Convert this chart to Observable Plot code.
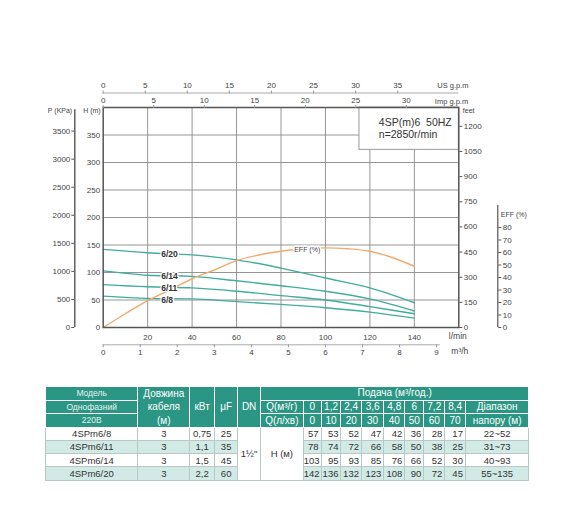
<!DOCTYPE html>
<html>
<head>
<meta charset="utf-8">
<script src="https://cdn.jsdelivr.net/npm/d3@7"></script>
<script src="https://cdn.jsdelivr.net/npm/@observablehq/plot@0.6"></script>
<style>
  html, body { margin: 0; padding: 0; background: #fff; }
  #wrap { position: relative; width: 570px; height: 508px; overflow: hidden; font-family: "Liberation Sans", Arial, sans-serif; }
  #chart { position: absolute; left: 0; top: 0; }
  #tbl { position: absolute; left: 45px; top: 386px; width: 483px; border-collapse: collapse; table-layout: fixed; font-family: "Liberation Sans", Arial, sans-serif; }
  #tbl td { padding: 0; overflow: hidden; white-space: nowrap; text-align: center; vertical-align: middle; line-height: 1; }
  #tbl thead td { background: #2b9684; color: #fff; font-size: 10px; border: 1px solid rgba(255,255,255,0.35); }
  #tbl thead tr { height: 13.3px; }
  #tbl thead td.model { font-size: 8.5px; color: #e3f3f0; }
  #tbl thead td.multi { line-height: 13.3px; }
  #tbl tbody tr { height: 13.2px; }
  #tbl tbody td { font-size: 9.5px; color: #333; border: 1px solid #b8c8c5; background: #fff; }
  #tbl tbody tr.alt td.band { background: #d2eae5; }
  #tbl td.num { text-align: right; padding-right: 2px; }
</style>
</head>
<body>
<div id="wrap">
  <div id="chart"></div>
  <table id="tbl"></table>
</div>
<script>
// ---------------- chart data ----------------
const curveModels = ["6/8", "6/11", "6/14", "6/20"];
const flowM3h = [0, 1.2, 2.4, 3.6, 4.8, 6, 7.2, 8.4];
const head6_8  = [57, 53, 52, 47, 42, 36, 28, 17];
const head6_11 = [78, 74, 72, 66, 58, 50, 38, 25];
const head6_14 = [103, 95, 93, 85, 76, 66, 52, 30];
const head6_20 = [142, 136, 132, 123, 108, 90, 72, 45];
const effFlowLmin = [0, 10, 20, 30, 40, 50, 60, 70, 80, 90, 100, 110, 120, 130, 140];
const effPct      = [0, 11, 21.5, 30, 39, 46, 53.5, 58, 61, 63, 63.7, 63, 61, 56, 49];

// tick labels
const lminTicks = [20, 40, 60, 80, 100, 120, 140];
const m3hTicks = [0, 1, 2, 3, 4, 5, 6, 7, 8, 9];
const usGpmTicks = [0, 5, 10, 15, 20, 25, 30, 35];
const impGpmTicks = [0, 5, 10, 15, 20, 25, 30];
const headTicks = [0, 50, 100, 150, 200, 250, 300, 350];
const kpaTicks = [0, 500, 1000, 1500, 2000, 2500, 3000, 3500];
const feetTicks = [0, 150, 300, 450, 600, 750, 900, 1050, 1200];
const effTicks = [0, 10, 20, 30, 40, 50, 60, 70, 80];
const infoLines = ["4SP(m)6\u00a0\u00a050HZ", "n=2850r/min"];

// unit conversions (to l/min on x, to metres on y)
const LMIN_PER_M3H = 1000 / 60;
const LMIN_PER_USGPM = 3.7854;
const LMIN_PER_IMPGPM = 4.5461;
const M_PER_KPA = 1 / 9.8;
const M_PER_FT = 0.3048;
const M_PER_EFFPCT = 2.2727;   // EFF scale: 100 % spans 227 m of the head axis

// ---------------- table data ----------------
const modelNames = ["4SPm6/8", "4SPm6/11", "4SPm6/14", "4SPm6/20"];
const cableLen = ["3", "3", "3", "3"];
const powerKw = ["0,75", "1,1", "1,5", "2,2"];
const capUf = ["25", "35", "45", "60"];
const flowM3hLabels = ["0", "1,2", "2,4", "3,6", "4,8", "6", "7,2", "8,4"];
const flowLminLabels = ["0", "10", "20", "30", "40", "50", "60", "70"];
const headRanges = ["22~52", "31~73", "40~93", "55~135"];
const dnLabel = "1½\"";

// ---------------- build chart ----------------
const heads = [head6_8, head6_11, head6_14, head6_20];
const curveData = [];
curveModels.forEach((m, i) => flowM3h.forEach((q, j) => curveData.push({model: m, q: q * LMIN_PER_M3H, h: heads[i][j]})));
const effData = effFlowLmin.map((q, i) => ({q, eff: effPct[i]}));
const labelData = curveModels.map((m, i) => ({model: m, q: flowM3h[1] * LMIN_PER_M3H, h: heads[i][1]}));

const TEAL = "#41ad9b";
const ORANGE = "#f2aa6e";
const AX = "#555";
const TXT = "#444";
const fmt = k => d => String(Math.round(d / k));

const chart = Plot.plot({
  width: 570,
  height: 380,
  marginLeft: 102.7,
  marginRight: 111.7,
  marginTop: 107,
  marginBottom: 53,
  x: {domain: [0, 160], axis: null, label: null},
  y: {domain: [0, 400], axis: null, label: null},
  style: {fontFamily: "'Liberation Sans', Arial, sans-serif", fontSize: "8px", color: TXT, background: "white", overflow: "visible"},
  marks: [
    Plot.gridX(lminTicks, {stroke: "#8a8a8a", strokeOpacity: 1, strokeWidth: 0.9}),
    Plot.gridY(headTicks.filter(d => d > 0), {stroke: "#8a8a8a", strokeOpacity: 1, strokeWidth: 0.9}),
    // info box
    Plot.rect([0], {x1: 115.3, x2: 160, y1: 323, y2: 400, fill: "white", stroke: "#999", strokeWidth: 1}),
    Plot.text([infoLines.join("\n")], {x: 124, y: 370.5, text: d => d, textAnchor: "start", lineAnchor: "top", lineHeight: 1.12, fontSize: 10.5, fill: "#333", dy: -6}),
    // curves
    Plot.line(curveData, {x: "q", y: "h", z: "model", stroke: TEAL, strokeWidth: 1.4, curve: "catmull-rom"}),
    Plot.line(effData, {x: "q", y: d => d.eff * M_PER_EFFPCT, stroke: ORANGE, strokeWidth: 1.4, curve: "catmull-rom"}),
    Plot.text(labelData, {x: "q", y: "h", text: "model", textAnchor: "start", dx: 13.5, dy: 1.5, fontSize: 8.5, fontWeight: "bold", fill: "#333", stroke: "white", strokeWidth: 2.5}),
    Plot.text([effData[9]], {x: "q", y: d => d.eff * M_PER_EFFPCT, text: () => "EFF (%)", dx: 4, dy: 0.5, fontSize: 7, fill: "#444", stroke: "white", strokeWidth: 3}),
    Plot.frame({stroke: "#555", strokeWidth: 1.5}),
    // left: H (m)
    Plot.axisY(headTicks, {anchor: "left", tickSize: 0, tickPadding: 3, label: null, fill: TXT, tickFormat: fmt(1)}),
    // left: P (kPa)
    Plot.ruleX([0], {y1: 0, y2: 396, dx: -28.4, stroke: "#555", strokeWidth: 1.4}),
    Plot.axisY(kpaTicks.map(p => p * M_PER_KPA), {anchor: "left", dx: -28.4, tickSize: 3, tickPadding: 1.5, label: null, stroke: AX, fill: TXT, tickFormat: fmt(M_PER_KPA)}),
    // right: feet
    Plot.axisY(feetTicks.map(f => f * M_PER_FT), {anchor: "right", tickSize: 3, tickPadding: 2, label: null, stroke: AX, fill: TXT, tickFormat: fmt(M_PER_FT)}),
    // right: EFF
    Plot.ruleX([160], {y1: 0, y2: 221.8, dx: 39, stroke: "#555", strokeWidth: 1.2}),
    Plot.axisY(effTicks.map(e => e * M_PER_EFFPCT), {anchor: "right", dx: 39, tickSize: 3, tickPadding: 2, label: null, stroke: AX, fill: TXT, tickFormat: fmt(M_PER_EFFPCT)}),
    // top: US g.p.m
    Plot.ruleY([400], {x1: 0, x2: 160, dy: -14.5, stroke: "#aaa", strokeWidth: 1}),
    Plot.axisX(usGpmTicks.map(g => g * LMIN_PER_USGPM), {anchor: "top", dy: -14.5, tickSize: 3, tickPadding: 2, label: null, stroke: "#999", fill: TXT, tickFormat: fmt(LMIN_PER_USGPM)}),
    // top: Imp g.p.m
    Plot.axisX(impGpmTicks.map(g => g * LMIN_PER_IMPGPM), {anchor: "top", tickSize: 3, tickPadding: 2, label: null, stroke: "#999", fill: TXT, tickFormat: fmt(LMIN_PER_IMPGPM)}),
    // bottom: l/min
    Plot.axisX(lminTicks, {anchor: "bottom", tickSize: 0, tickPadding: 7, label: null, fill: TXT, tickFormat: fmt(1)}),
    // bottom: m3/h
    Plot.ruleY([0], {x1: 0, x2: 9.1 * LMIN_PER_M3H, dy: 17.3, stroke: "#aaa", strokeWidth: 1}),
    Plot.axisX(m3hTicks.map(m => m * LMIN_PER_M3H), {anchor: "bottom", dy: 17.3, tickSize: 3, tickPadding: 2, label: null, stroke: "#999", fill: TXT, tickFormat: fmt(LMIN_PER_M3H)}),
    // axis titles
    Plot.text(["P (KPa)"], {frameAnchor: "top-left", textAnchor: "end", dx: -31, dy: 1, fontSize: 7, fill: TXT}),
    Plot.text(["H (m)"], {frameAnchor: "top-left", textAnchor: "end", dx: -2.5, dy: 1, fontSize: 7, fill: TXT}),
    Plot.text(["US g.p.m"], {frameAnchor: "top-right", textAnchor: "start", dx: -21.5, dy: -24.5, fontSize: 7.5, fill: TXT}),
    Plot.text(["Imp g.p.m"], {frameAnchor: "top-right", textAnchor: "start", dx: -24, dy: -9, fontSize: 7.5, fill: TXT}),
    Plot.text(["feet"], {frameAnchor: "top-right", textAnchor: "start", dx: 4, dy: 1, fontSize: 7, fill: TXT}),
    Plot.text(["EFF (%)"], {frameAnchor: "right", textAnchor: "start", dx: 42, dy: -3, fontSize: 7, fill: TXT}),
    Plot.text(["l/min"], {frameAnchor: "bottom-right", textAnchor: "start", dx: -10, dy: 11.5, fontSize: 8.5, fill: TXT}),
    Plot.text(["m³/h"], {frameAnchor: "bottom-right", textAnchor: "start", dx: -7.5, dy: 26, fontSize: 8.5, fill: TXT})
  ]
});
document.getElementById("chart").appendChild(chart);

// ---------------- build table ----------------
const colWidths = [92.3, 52, 24.7, 23.3, 22.7, 42.7, 18, 19.8, 20.5, 22.3, 21, 19, 21, 20.7, 63.3];
const tbl = document.getElementById("tbl");
const cg = document.createElement("colgroup");
colWidths.forEach(w => { const c = document.createElement("col"); c.style.width = w + "px"; cg.appendChild(c); });
tbl.appendChild(cg);

function td(text, opts = {}) {
  const c = document.createElement("td");
  if (opts.html) c.innerHTML = text; else c.textContent = text;
  if (opts.cls) c.className = opts.cls;
  if (opts.rs) c.rowSpan = opts.rs;
  if (opts.cs) c.colSpan = opts.cs;
  return c;
}
const thead = document.createElement("thead");
const r1 = document.createElement("tr");
r1.append(td("Модель", {cls: "model"}), td("Довжина<br>кабеля<br>(м)", {html: true, rs: 3, cls: "multi"}), td("кВт", {rs: 3}), td("μF", {rs: 3}), td("DN", {rs: 3}), td("Подача (м³/год.)", {cs: 10}));
const r2 = document.createElement("tr");
r2.append(td("Однофазний", {cls: "model"}), td("Q(м³/г)"));
flowM3hLabels.forEach(f => r2.append(td(f)));
r2.append(td("Діапазон"));
const r3 = document.createElement("tr");
r3.append(td("220В", {cls: "model"}), td("Q(л/хв)"));
flowLminLabels.forEach(f => r3.append(td(f)));
r3.append(td("напору (м)"));
thead.append(r1, r2, r3);
tbl.appendChild(thead);

const tbody = document.createElement("tbody");
modelNames.forEach((m, i) => {
  const tr = document.createElement("tr");
  if (i % 2 === 1) tr.className = "alt";
  tr.append(td(m, {cls: "band"}), td(cableLen[i], {cls: "band"}), td(powerKw[i], {cls: "band"}), td(capUf[i], {cls: "band"}));
  if (i === 0) { tr.append(td(dnLabel, {rs: 4}), td("Н (м)", {rs: 4})); }
  heads[i].forEach(h => tr.append(td(String(h), {cls: "band num"})));
  tr.append(td(headRanges[i], {cls: "band"}));
  tbody.appendChild(tr);
});
tbl.appendChild(tbody);
</script>
</body>
</html>
